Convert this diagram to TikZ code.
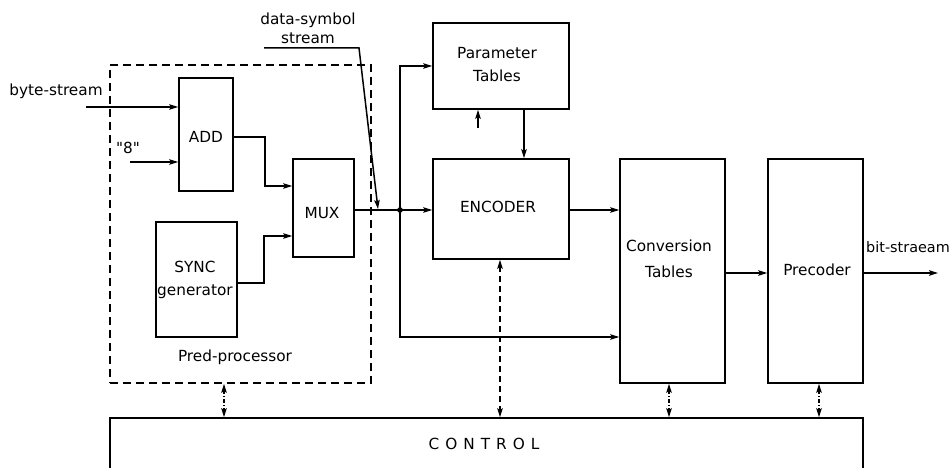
\documentclass[tikz,border=0pt]{standalone}
\usepackage{fontspec}
\setmainfont{DejaVu Sans}[Ligatures=TeXOff]
\usetikzlibrary{arrows.meta}
\tikzset{
  box/.style={draw, line width=1.6pt, inner sep=0pt},
  conn/.style={line width=1.5pt},
  arr/.style={conn, -{Stealth[length=9pt,width=5.5pt,inset=1.8pt]}},
  darr/.style={conn, {Stealth[length=9pt,width=5.5pt,inset=1.8pt]}-{Stealth[length=9pt,width=5.5pt,inset=1.8pt]}},
  lbl/.style={font=\fontsize{15.3pt}{22pt}\selectfont, align=center, inner sep=0pt},
}
\begin{document}
\begin{tikzpicture}[x=1pt,y=-1pt]
\useasboundingbox (0,0) rectangle (951,468);
\clip (0,0) rectangle (951,468);
\fill[white] (0,0) rectangle (951,468);
% boxes
\node[box, dash pattern=on 8pt off 5pt, minimum width=261pt, minimum height=318pt] (pre) at (240.5,224) {};
\node[box, minimum width=54pt, minimum height=113pt] (add) at (206,134.5) {};
\node[box, minimum width=61pt, minimum height=98pt] (mux) at (323.5,208) {};
\node[box, minimum width=81pt, minimum height=115pt] (sync) at (196.5,279.5) {};
\node[box, minimum width=136pt, minimum height=86pt] (param) at (501,66) {};
\node[box, minimum width=136pt, minimum height=100pt] (enc) at (501,209) {};
\node[box, minimum width=105pt, minimum height=224pt] (conv) at (672.5,271) {};
\node[box, minimum width=95pt, minimum height=224pt] (prec) at (815.5,271) {};
\node[box, minimum width=753pt, minimum height=90pt] (control) at (486.5,463) {};
% texts
\node[lbl] (tadd) at (206,137) {ADD};
\node[lbl] (tmux) at (322,213) {MUX};
\node[lbl, font=\fontsize{15.3pt}{23pt}\selectfont] (tsync) at (195,280) {SYNC\\generator};
\node[lbl] (tpre) at (235,357) {Pred-processor};
\node[lbl, font=\fontsize{15.3pt}{23pt}\selectfont] (tparam) at (497,65) {Parameter\\Tables};
\node[lbl] (tenc) at (498,207) {ENCODER};
\node[lbl, font=\fontsize{15.3pt}{26pt}\selectfont] (tconv) at (669,259) {Conversion\\Tables};
\node[lbl] (tprec) at (817,270) {Precoder};
\node[lbl] (tcontrol) at (484,444) {C\hspace{6pt}O\hspace{6pt}N\hspace{6pt}T\hspace{6pt}R\hspace{6pt}O\hspace{6pt}L};
\node[lbl] (tbyte) at (56,91) {byte-stream};
\node[lbl] (t8) at (128,148) {"8"};
\node[lbl, font=\fontsize{15.3pt}{19pt}\selectfont] (tdata) at (308,28) {data-symbol\\stream};
\node[lbl, font=\fontsize{14.4pt}{19pt}\selectfont, anchor=west] (tbit) at (866,247) {bit-straeam};
% coordinates
\coordinate (bs) at (86,107);
\coordinate (e8) at (130,162);
\coordinate (j) at (400,210);
\coordinate (ds0) at (264,48);
\coordinate (ds1) at (359,48);
\coordinate (ds2) at (378,209);
\coordinate (pin) at (478,128);
\coordinate (out) at (938,273);
% connectors
\draw[arr] (bs) -- (bs -| add.west);
\draw[arr] (e8) -- (e8 -| add.west);
\draw[arr] (add.east |- 0,137) -- (265,137) |- (mux.west |- 0,186);
\draw[arr] (sync.east |- 0,283) -- (264,283) |- (mux.west |- 0,236);
\draw[arr] (mux.east |- j) -- (enc.west |- j);
\fill (j) circle (2.8pt);
\draw[arr] (j) |- (param.west);
\draw[arr] (j) |- (conv.west |- 0,337);
\draw[arr] (ds0) -- (ds1) -- (ds2);
\draw[arr] (param.south -| 524,0) -- (enc.north -| 524,0);
\draw[arr] (pin) -- (pin |- param.south);
\draw[arr] (enc.east |- j) -- (conv.west |- j);
\draw[arr] (conv.east |- out) -- (prec.west |- out);
\draw[arr] (prec.east |- out) -- (out);
\draw[darr, dash pattern=on 4pt off 2pt on 1pt off 2pt] (pre.south -| 224,0) -- (control.north -| 224,0);
\draw[darr, dash pattern=on 6pt off 4pt] (enc.south -| 500,0) -- (control.north -| 500,0);
\draw[darr, dash pattern=on 4pt off 2pt on 1pt off 2pt] (conv.south -| 669,0) -- (control.north -| 669,0);
\draw[darr, dash pattern=on 4pt off 2pt on 1pt off 2pt] (prec.south -| 819,0) -- (control.north -| 819,0);
\end{tikzpicture}
\end{document}
